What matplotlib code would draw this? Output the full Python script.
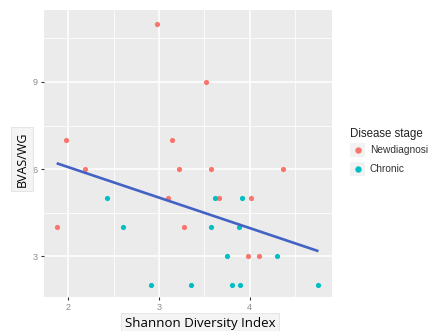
import numpy as np
import matplotlib
matplotlib.use('Agg')
import matplotlib.pyplot as plt
from matplotlib.lines import Line2D

new_x = [2.98, 3.52, 1.97, 3.14, 2.18, 3.22, 3.57, 4.37, 3.10, 3.66, 4.01, 1.87, 3.28, 3.98, 4.10]
new_y = [11, 9, 7, 7, 6, 6, 6, 6, 5, 5, 5, 4, 4, 3, 3]
chr_x = [2.43, 3.62, 3.92, 2.60, 3.57, 3.88, 3.75, 4.30, 2.91, 3.35, 3.81, 3.89, 4.76]
chr_y = [5, 5, 5, 4, 4, 4, 3, 3, 2, 2, 2, 2, 2]
fit_x = [1.87, 4.76]
fit_y = [6.2, 3.17]
x_ticks = [2, 3, 4]
y_ticks = [3, 6, 9]
labels = ['Newdiagnosis', 'Chronic']

red = '#F8766D'
cyan = '#00BFC4'

fig = plt.figure(figsize=(4.28, 3.31), dpi=100)
ax = fig.add_axes([0.1028, 0.1027, 0.673, 0.867])
ax.set_facecolor('#EBEBEB')
for s in ax.spines.values():
	s.set_visible(False)

ax.set_xlim(1.73, 4.91)
ax.set_ylim(1.59, 11.48)
ax.set_xticks(x_ticks)
ax.set_yticks(y_ticks)
ax.set_xticks([2.5, 3.5, 4.5], minor=True)
ax.set_yticks([4.5, 7.5, 10.5], minor=True)
ax.grid(which='major', color='white', linewidth=1.1)
ax.grid(which='minor', color='white', linewidth=0.55)
ax.set_axisbelow(True)
ax.tick_params(which='major', length=2.5, width=0.8, color='#333333',
	labelsize=6.5, labelcolor='#8a8a8a', pad=2)
ax.tick_params(which='minor', length=0)
for t in ax.get_xticklabels() + ax.get_yticklabels():
	t.set_family('Liberation Sans')

ax.scatter(new_x, new_y, s=14, color=red, zorder=3, linewidths=0)
ax.scatter(chr_x, chr_y, s=14, color=cyan, zorder=3, linewidths=0)
ax.plot(fit_x, fit_y, color='#4262c4', linewidth=1.9, zorder=4, solid_capstyle='butt')

# pasted-looking axis titles
box = dict(boxstyle='square,pad=0.35', facecolor='#F4F4F4', edgecolor='#E2E2E2', linewidth=0.6)
fig.text(22/428, 1-159/331, 'BVAS/WG', rotation=90, ha='center', va='center',
	fontsize=9, family='Open Sans', bbox=box)
box2 = dict(boxstyle='square,pad=0.3', facecolor='#F4F4F4', edgecolor='#E2E2E2', linewidth=0.6)
fig.text(200/428, 1-323/331, 'Shannon Diversity Index', ha='center', va='center',
	fontsize=9.5, family='Open Sans', bbox=box2)

# legend
fig.text(350/428, 1-134/331, 'Disease stage', ha='left', va='center', fontsize=8.3,
	color='#222222', family='Liberation Sans')
for i, (lab, c) in enumerate(zip(labels, [red, cyan])):
	yc = 1 - (150 + i*19)/331
	fig.patches.append(plt.Rectangle((350/428, yc - 7/331), 15/428, 14/331,
		transform=fig.transFigure, facecolor='#F2F2F2', edgecolor='none'))
	fig.add_artist(Line2D([357.5/428], [yc], marker='o', markersize=3.6, color=c,
		linestyle='none', transform=fig.transFigure))
	fig.text(370/428, yc, lab, ha='left', va='center', fontsize=7.3, color='#333333',
		family='Liberation Sans')

plt.savefig('out.png', dpi=100)
